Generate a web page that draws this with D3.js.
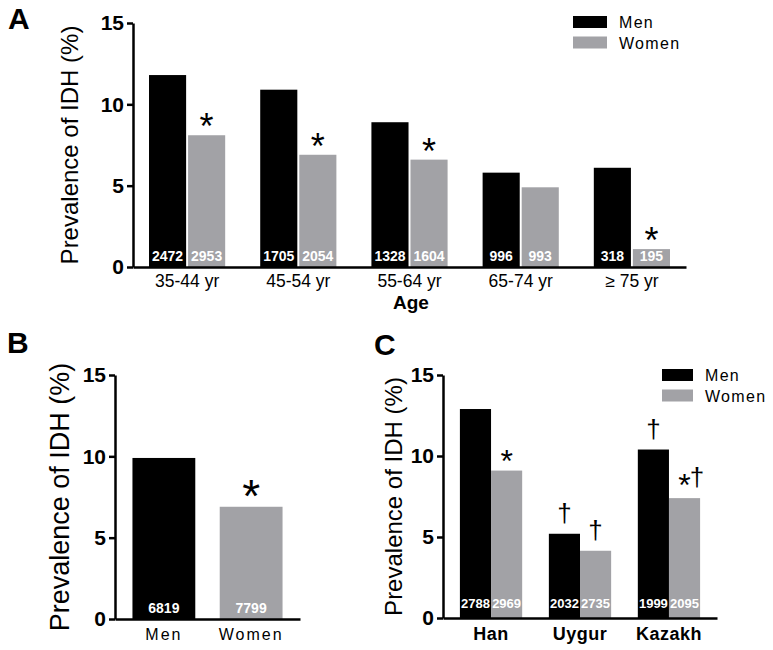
<!DOCTYPE html>
<html>
<head>
<meta charset="utf-8">
<script src="https://cdn.jsdelivr.net/npm/d3@7"></script>
<style>
  body { margin: 0; background: #fff; }
  svg { display: block; font-family: "Liberation Sans", Arial, sans-serif; }
</style>
</head>
<body>
<svg id="chart" width="773" height="650"></svg>
<script>
// ---- data ----
var yTicks = [0, 5, 10, 15];
var sexes = ['Men', 'Women'];

// A: by age
var ageGroups   = ['35-44 yr', '45-54 yr', '55-64 yr', '65-74 yr', '\u2265 75 yr'];
var ageMen      = [11.8, 10.9, 8.9, 5.8, 6.1];
var ageWomen    = [8.1, 6.9, 6.6, 4.9, 1.1];
var ageMenN     = [2472, 1705, 1328, 996, 318];
var ageWomenN   = [2953, 2054, 1604, 993, 195];
var ageMenMark  = ['', '', '', '', ''];
var ageWomenMark = ['*', '*', '*', '', '*'];

// B: overall
var sexValues = [9.9, 6.9];
var sexN      = [6819, 7799];
var sexMark   = ['', '*'];

// C: by ethnicity
var ethGroups    = ['Han', 'Uygur', 'Kazakh'];
var ethMen       = [12.9, 5.2, 10.4];
var ethWomen     = [9.1, 4.15, 7.4];
var ethMenN      = [2788, 2032, 1999];
var ethWomenN    = [2969, 2735, 2095];
var ethMenMark   = ['', '\u2020', '\u2020'];
var ethWomenMark = ['*', '\u2020', '*\u2020'];

var colors = { Men: '#000', Women: '#a2a2a6' };
var svg = d3.select('#chart');

// build rows for grouped panels
function rows(groups, men, women, menN, womenN, menMark, womenMark) {
    var out = [];
    groups.forEach(function (g, i) {
        out.push({ group: g, sex: 'Men', v: men[i], n: menN[i], mark: menMark[i] });
        out.push({ group: g, sex: 'Women', v: women[i], n: womenN[i], mark: womenMark[i] });
    });
    return out;
}

function drawPanel(p) {
    var g = svg.append('g');
    var y = d3.scaleLinear().domain([0, 15]).range([p.y0, p.y1]);
    var x = d3.scaleBand().domain(p.groups).range([p.x0, p.x1])
        .paddingInner(p.padIn).paddingOuter(p.padOut);
    var xs = d3.scaleBand().domain(p.sub).range([0, x.bandwidth()]).paddingInner(p.subPad);

    var bx = function (d) { return x(d.group) + xs(d.sex); };
    var fill = function (d) { return colors[d.sex] || colors[d.group]; };

    g.selectAll('rect.bar').data(p.data).enter().append('rect')
        .attr('class', 'bar')
        .attr('x', bx)
        .attr('width', xs.bandwidth())
        .attr('y', function (d) { return y(d.v); })
        .attr('height', function (d) { return y(0) - y(d.v); })
        .attr('fill', fill);

    // sample sizes
    g.selectAll('text.n').data(p.data).enter().append('text')
        .attr('class', 'n')
        .attr('x', function (d) { return bx(d) + xs.bandwidth() / 2; })
        .attr('y', y(0) - p.nOff)
        .attr('text-anchor', 'middle')
        .attr('font-family', '"Liberation Sans Narrow", "Liberation Sans", sans-serif')
        .attr('font-weight', 'bold')
        .attr('font-size', p.nSize)
        .attr('fill', '#fff')
        .text(function (d) { return d.n; });

    // significance marks: asterisk and dagger sit at their own baselines
    var marks = g.selectAll('text.mark').data(p.data.filter(function (d) { return d.mark; }))
        .enter().append('text')
        .attr('class', 'mark')
        .attr('x', function (d) { return bx(d) + xs.bandwidth() / 2; })
        .attr('text-anchor', 'middle')
        .attr('fill', '#000');
    marks.each(function (d) {
        var t = d3.select(this);
        var combo = d.mark.length > 1;
        d.mark.split('').forEach(function (c) {
            var star = c === '*';
            var off = star ? p.markOff + (combo ? 3 : 0) : p.dagOff;
            t.append('tspan')
                .attr('y', y(d.v) - off)
                .attr('font-size', star ? p.markSize : p.dagSize)
                .text(c);
        });
    });

    // axes
    var yAxis = g.append('g').attr('transform', 'translate(' + p.x0 + ',0)')
        .call(d3.axisLeft(y).tickValues(yTicks).tickSize(6).tickPadding(3).tickSizeOuter(0));
    yAxis.select('.domain').attr('stroke-width', 2.5);
    yAxis.selectAll('.tick line').attr('stroke-width', 2.5);
    yAxis.selectAll('.tick text')
        .attr('font-family', '"Liberation Sans", Arial, sans-serif')
        .attr('font-size', 21).attr('font-weight', 'bold').attr('fill', '#000');

    var xAxis = g.append('g').attr('transform', 'translate(0,' + p.y0 + ')')
        .call(d3.axisBottom(x).tickSize(0).tickPadding(p.xPad).tickSizeOuter(0));
    xAxis.select('.domain').attr('stroke-width', 2.5);
    xAxis.selectAll('.tick text')
        .attr('font-family', '"Liberation Sans", Arial, sans-serif')
        .attr('font-size', p.xSize).attr('font-weight', p.xWeight)
        .attr('letter-spacing', p.xSpacing).attr('fill', '#000');

    // y label
    g.append('text')
        .attr('transform', 'translate(' + p.ylabX + ',' + (p.y0 + p.y1) / 2 + ') rotate(-90)')
        .attr('text-anchor', 'middle')
        .attr('font-size', p.ylabSize)
        .text('Prevalence of IDH (%)');

    // panel letter
    g.append('text').attr('x', p.letterX).attr('y', p.letterY)
        .attr('font-size', 30).attr('font-weight', 'bold').text(p.letter);

    // legend
    if (p.legend) {
        var lg = g.append('g').attr('transform', 'translate(' + p.legend[0] + ',' + p.legend[1] + ')');
        sexes.forEach(function (s, i) {
            lg.append('rect').attr('x', 0).attr('y', i * 20.5)
                .attr('width', p.legendW).attr('height', 12).attr('fill', colors[s]);
            lg.append('text').attr('x', p.legendW + 12).attr('y', i * 20.5 + 12)
                .attr('font-size', 16).attr('letter-spacing', 1.3).text(s);
        });
    }
    return g;
}

// Panel A
var gA = drawPanel({
    letter: 'A', letterX: 8, letterY: 29,
    groups: ageGroups, sub: sexes, subPad: 0.05,
    data: rows(ageGroups, ageMen, ageWomen, ageMenN, ageWomenN, ageMenMark, ageWomenMark),
    x0: 133, x1: 686, y0: 267, y1: 23, padIn: 0.315, padOut: 0.144,
    nOff: 6, nSize: 14, markOff: -4, dagOff: 12, markSize: 36, dagSize: 26,
    xPad: 8, xSize: 17.5, xWeight: 'normal', xSpacing: 0,
    ylabX: 78, ylabSize: 24, legend: [573, 16], legendW: 34
});
gA.append('text').attr('x', 411).attr('y', 309).attr('text-anchor', 'middle')
    .attr('font-size', 19).attr('font-weight', 'bold').text('Age');

// Panel B (one bar per sex)
drawPanel({
    letter: 'B', letterX: 7, letterY: 353,
    groups: sexes, sub: ['x'], subPad: 0,
    data: sexes.map(function (s, i) { return { group: s, sex: 'x', v: sexValues[i], n: sexN[i], mark: sexMark[i] }; }),
    x0: 115, x1: 300, y0: 619, y1: 375, padIn: 0.28, padOut: 0.2,
    nOff: 6, nSize: 14, markOff: -5, dagOff: 12, markSize: 46, dagSize: 26,
    xPad: 10, xSize: 16, xWeight: 'normal', xSpacing: 2,
    ylabX: 69, ylabSize: 27, legend: null
});

// Panel C
drawPanel({
    letter: 'C', letterX: 374, letterY: 355,
    groups: ethGroups, sub: sexes, subPad: 0,
    data: rows(ethGroups, ethMen, ethWomen, ethMenN, ethWomenN, ethMenMark, ethWomenMark),
    x0: 443, x1: 717, y0: 618, y1: 375, padIn: 0.3, padOut: 0.19,
    nOff: 10, nSize: 13, markOff: -1, dagOff: 12, markSize: 32, dagSize: 26,
    xPad: 9, xSize: 18, xWeight: 'bold', xSpacing: 0.5,
    ylabX: 402, ylabSize: 24, legend: [662, 369], legendW: 31
});
</script>
</body>
</html>
